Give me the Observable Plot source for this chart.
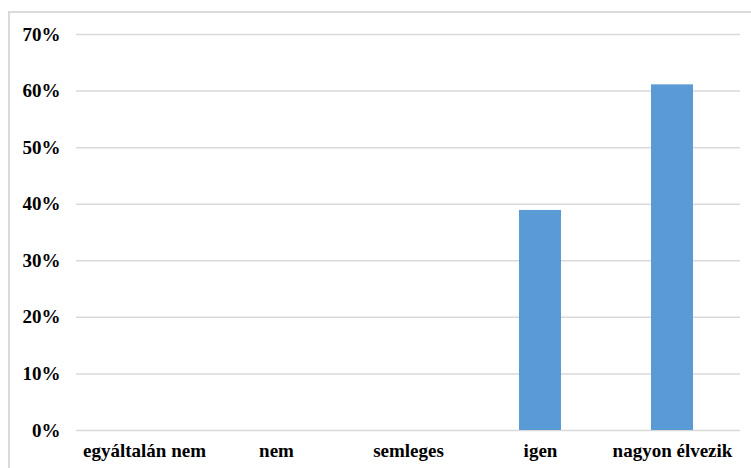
<!DOCTYPE html>
<html>
<head>
<meta charset="utf-8">
<script src="https://cdn.jsdelivr.net/npm/d3@7"></script>
<script src="https://cdn.jsdelivr.net/npm/@observablehq/plot@0.6"></script>
<style>
  html, body { margin: 0; padding: 0; background: #fff; overflow: hidden; }
  #wrap { position: relative; width: 751px; height: 468px; }
  #border { position: absolute; left: 8px; top: 11px; width: 760px; height: 480px; border: 2px solid #D9D9D9; box-sizing: border-box; pointer-events: none; }
  #chart { position: absolute; left: 0; top: 0; }
</style>
</head>
<body>
<div id="wrap"><div id="border"></div><div id="chart"></div></div>
<script>
const categories = ["egyáltalán nem", "nem", "semleges", "igen", "nagyon élvezik"];
const values = [0, 0, 0, 0.389, 0.611];
const yTicks = [0, 0.1, 0.2, 0.3, 0.4, 0.5, 0.6, 0.7];

const data = categories.map((c, i) => ({category: c, value: values[i]}));

const chart = Plot.plot({
  width: 751,
  height: 468,
  marginLeft: 76,
  marginRight: 11,
  marginTop: 34,
  marginBottom: 38,
  style: {fontFamily: "'Liberation Serif', 'Times New Roman', serif", fontWeight: "bold", fontSize: "19px", color: "#000", background: "transparent"},
  x: {domain: categories, paddingInner: 0.68, paddingOuter: 0.34, label: null},
  y: {domain: [0, 0.7], label: null},
  marks: [
    Plot.gridY(yTicks, {stroke: "#D9D9D9", strokeOpacity: 1, strokeWidth: 1.5}),
    Plot.barY(data, {x: "category", y: "value", fill: "#5B9BD5"}),
    Plot.axisX({tickSize: 0, tickPadding: 13, fill: "#000", fontSize: 19}),
    Plot.axisY(yTicks, {tickSize: 0, tickPadding: 16, tickFormat: d3.format(".0%"), fill: "#000", fontSize: 19})
  ]
});
document.getElementById("chart").appendChild(chart);
</script>
</body>
</html>
